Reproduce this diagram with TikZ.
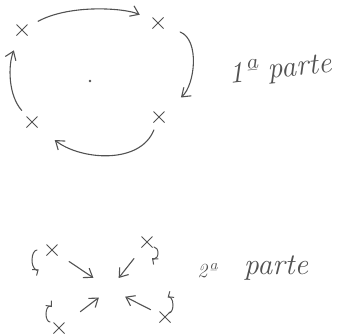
\documentclass[tikz,border=0pt]{standalone}
\usepackage{tikz}
\usetikzlibrary{arrows.meta,shapes.misc}
\colorlet{pencilGray}{black!68}
\tikzset{
  >={Straight Barb[length=2.8mm,width=4mm]},
  xmark/.style={
    cross out,
    draw=pencilGray,
    line width=1pt,
    minimum size=10pt,
    inner sep=0pt
  },
  centredot/.style={
    circle,
    fill=pencilGray,
    inner sep=1pt
  },
  sketcharrow/.style={
    ->,
    draw=pencilGray,
    line width=1.1pt,
    line cap=round
  },
  curlarrow/.style={
    -{Straight Barb[length=1.6mm,width=2.6mm]},
    draw=pencilGray,
    line width=1pt,
    line cap=round
  },
  hand/.style={
    text=pencilGray,
    inner sep=0pt,
    font=\itshape\fontsize{30}{30}\selectfont
  },
  handsmall/.style={
    text=pencilGray,
    inner sep=0pt,
    font=\itshape\fontsize{20}{20}\selectfont
  }
}

\begin{document}
\begin{tikzpicture}[x=1pt,y=-1pt]
\useasboundingbox (0,0) rectangle (337,335);

% 1a parte: four points turning round a centre
\node[xmark] (a1) at (22,30) {};
\node[xmark] (a2) at (158,23) {};
\node[xmark] (a3) at (159,117) {};
\node[xmark] (a4) at (32,122) {};
\node[centredot] (ctr) at (90,81) {};

\draw[sketcharrow, shorten <=12pt, shorten >=14pt] (a1) .. controls (70,4) and (125,8) .. (a2);
\draw[sketcharrow, shorten <=18pt, shorten >=22pt] (a2) .. controls (200,40) and (195,85) .. (a3);
\draw[sketcharrow, shorten <=8pt, shorten >=22pt] (a3) .. controls (140,165) and (80,160) .. (a4);
\draw[sketcharrow, shorten <=8pt, shorten >=16pt] (a4) .. controls (8,95) and (8,65) .. (a1);

\node[hand, rotate=6] (part1) at (280,70) {1ª parte};

% 2a parte: four points moving towards one place
\coordinate (meet) at (110,289);
\node[xmark] (b1) at (52,250) {};
\node[xmark] (b2) at (147,242) {};
\node[xmark] (b3) at (59,328) {};
\node[xmark] (b4) at (165,317) {};

\draw[sketcharrow, shorten <=14pt, shorten >=20pt] (b1) -- (meet);
\draw[sketcharrow, shorten <=14pt, shorten >=14pt] (b2) -- (meet);
\draw[sketcharrow, shorten <=20pt, shorten >=14pt] (b3) -- (meet);
\draw[sketcharrow, shorten <=10pt, shorten >=17pt] (b4) -- (meet);

\draw[curlarrow] ([shift={(-15,0)}]b1.center) arc[start angle=270, end angle=70, x radius=5, y radius=10];
\draw[curlarrow] ([shift={(7,5)}]b2.center) arc[start angle=-90, end angle=120, x radius=4, y radius=6];
\draw[curlarrow] ([shift={(-9,-6)}]b3.center) arc[start angle=90, end angle=300, x radius=4, y radius=8];
\draw[curlarrow] ([shift={(4,-4)}]b4.center) arc[start angle=90, end angle=-110, x radius=4, y radius=8];

\node[handsmall] (ord2) at (207,271) {2ª};
\node[hand] (part2) at (276,268) {parte};

\end{tikzpicture}
\end{document}
